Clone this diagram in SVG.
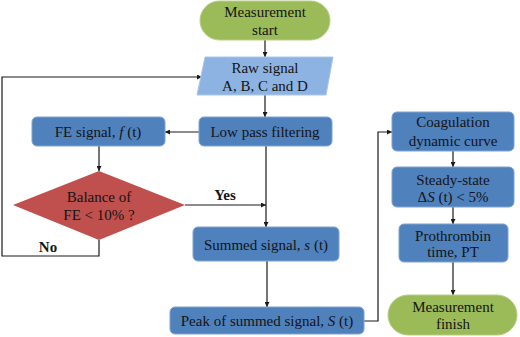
<svg xmlns="http://www.w3.org/2000/svg" width="520" height="337" viewBox="0 0 520 337">
<style>
text{font-family:'Liberation Serif','DejaVu Serif',serif;font-size:15px;fill:#141414;text-anchor:middle}
.b{font-weight:bold}
.g{fill:#9bbb59;stroke:#b5cf85;stroke-width:1}
.lb{fill:#8db3e2;stroke:#a9c6ea;stroke-width:1}
.db{fill:#4f81bd;stroke:#7fa3d2;stroke-width:1}
.rd{fill:#c0504d}
.c{fill:none;stroke:#1a1a1a;stroke-width:1.2}
</style>
<defs>
<marker id="ah" viewBox="0 0 10 10" refX="10" refY="5" markerWidth="5" markerHeight="5" orient="auto" markerUnits="userSpaceOnUse">
<path d="M0,0 L10,5 L0,10 z" fill="#1a1a1a"/>
</marker>
</defs>
<g id="connectors">
<path class="c" d="M265,40 V57" marker-end="url(#ah)"/>
<path class="c" d="M265,95 V117" marker-end="url(#ah)"/>
<path class="c" d="M199,132 H165" marker-end="url(#ah)"/>
<path class="c" d="M99,146 V171" marker-end="url(#ah)"/>
<path class="c" d="M99,240 V256 H2 V77 H202" marker-end="url(#ah)"/>
<path class="c" d="M185,205 H266" marker-end="url(#ah)"/>
<path class="c" d="M266,146 V227" marker-end="url(#ah)"/>
<path class="c" d="M267,261 V307" marker-end="url(#ah)"/>
<path class="c" d="M364,321 H378 V132 H392" marker-end="url(#ah)"/>
<path class="c" d="M453,151 V167" marker-end="url(#ah)"/>
<path class="c" d="M453,207 V224" marker-end="url(#ah)"/>
<path class="c" d="M453,262 V295" marker-end="url(#ah)"/>
</g>
<g id="start">
<rect class="g" x="200" y="1" width="130" height="39" rx="19.5"/>
<text x="265" y="17">Measurement</text>
<text x="265" y="35">start</text>
</g>
<g id="raw">
<polygon class="lb" points="205,57 333,57 326,95 197,95"/>
<text x="265" y="73">Raw signal</text>
<text x="265" y="91">A, B, C and D</text>
</g>
<g id="lowpass">
<rect class="db" x="199" y="117" width="133" height="29" rx="5"/>
<text x="265" y="136.5">Low pass filtering</text>
</g>
<g id="fe">
<rect class="db" x="32" y="117" width="133" height="29" rx="5"/>
<text x="98" y="136.5">FE signal, <tspan font-style="italic">f</tspan> (t)</text>
</g>
<g id="balance">
<polygon class="rd" points="99,171 185,205 99,240 13,205"/>
<text x="99" y="202">Balance of</text>
<text x="99" y="220">FE &lt; 10% ?</text>
</g>
<g id="labels">
<text class="b" x="225" y="200">Yes</text>
<text class="b" x="48" y="252">No</text>
</g>
<g id="summed">
<rect class="db" x="193" y="227" width="146" height="34" rx="5"/>
<text x="266" y="249.5">Summed signal, <tspan font-style="italic">s</tspan> (t)</text>
</g>
<g id="peak">
<rect class="db" x="170" y="307" width="194" height="27" rx="5"/>
<text x="267" y="326">Peak of summed signal, <tspan font-style="italic">S</tspan> (t)</text>
</g>
<g id="coag">
<rect class="db" x="392" y="112" width="122" height="39" rx="5"/>
<text x="453" y="127">Coagulation</text>
<text x="453" y="146">dynamic curve</text>
</g>
<g id="steady">
<rect class="db" x="392" y="167" width="122" height="40" rx="5"/>
<text x="453" y="185">Steady-state</text>
<text x="453" y="202">Δ<tspan font-style="italic">S</tspan> (t) &lt; 5%</text>
</g>
<g id="pt">
<rect class="db" x="399" y="224" width="109" height="38" rx="5"/>
<text x="453" y="241">Prothrombin</text>
<text x="453" y="257">time, PT</text>
</g>
<g id="finish">
<rect class="g" x="388" y="295" width="129" height="40" rx="20"/>
<text x="453" y="312">Measurement</text>
<text x="453" y="329">finish</text>
</g>
</svg>
